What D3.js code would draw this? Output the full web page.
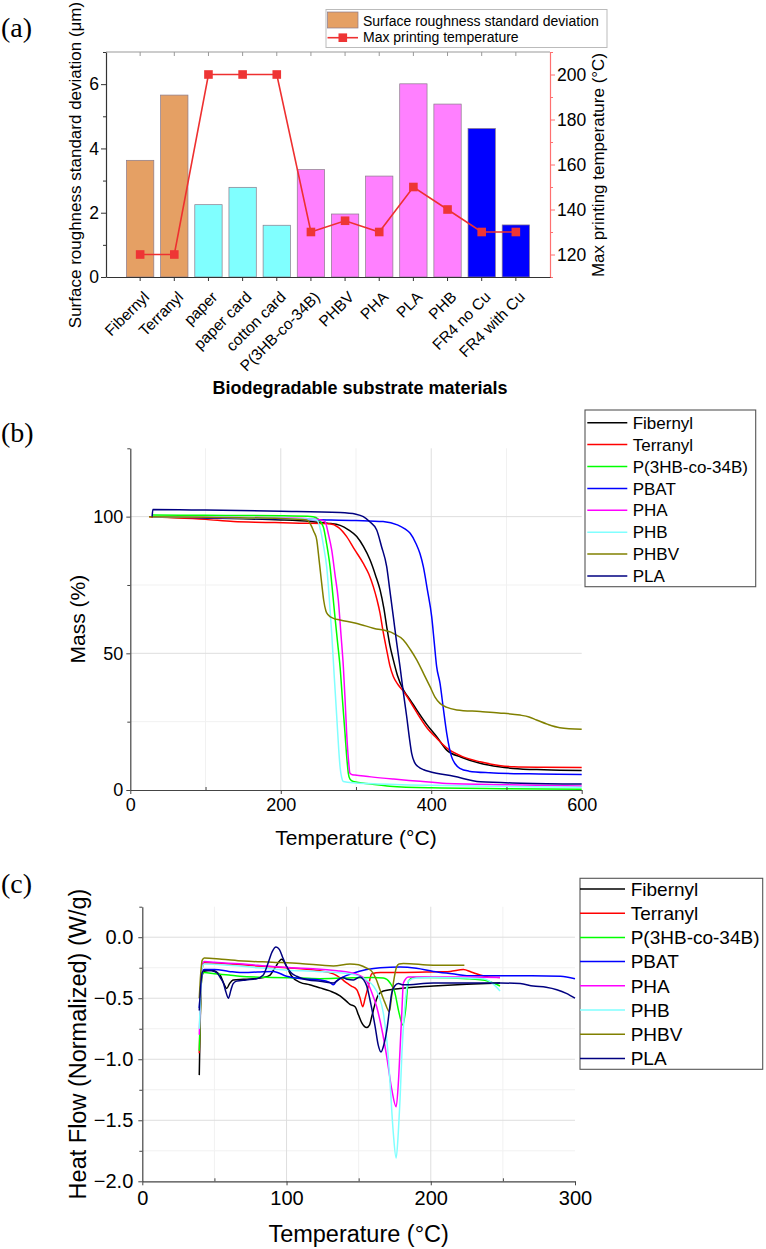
<!DOCTYPE html>
<html><head><meta charset="utf-8">
<script src="https://cdn.jsdelivr.net/npm/d3@7"></script>
<style>
body{margin:0;background:#fff}
svg{display:block}
text{fill:#000}
</style>
</head><body>
<svg id="chart" width="766" height="1249" font-family='"Liberation Sans",Arial,sans-serif'></svg>
<script>
// ---------- Panel (a) data ----------
const categories = ["Fibernyl","Terranyl","paper","paper card","cotton card","P(3HB-co-34B)","PHBV","PHA","PLA","PHB","FR4 no Cu","FR4 with Cu"];
const roughness = [3.63,5.66,2.25,2.79,1.61,3.34,1.96,3.14,6.01,5.38,4.62,1.62];
const maxTemp = [120,120,200,200,200,130,135,130,150,140,130,130];
const barGroup = ["a","a","b","b","b","c","c","c","c","c","d","d"];
const groupColors = {a:"#E5A064", b:"#80FFFF", c:"#FF80FF", d:"#0000FF"};
const yTicksA = [0,2,4,6];
const yMinorA = [1,3,5,7];
const y2TicksA = [120,140,160,180,200];
const y2MinorA = [110,130,150,170,190,210];

// ---------- Panel (b) data : TGA (Temperature °C, Mass %) ----------
const seriesNames = ["Fibernyl","Terranyl","P(3HB-co-34B)","PBAT","PHA","PHB","PHBV","PLA"];
const seriesColors = ["#000000","#FF0000","#00FF00","#0000FF","#FF00FF","#80FFFF","#808000","#000080"];

const tgaFibernyl = [[28,100],[60,99.7],[100,99.5],[150,99.2],[200,98.8],[240,98.2],[262,97.6],[279,96.8],[290,95.2],[301,92.7],[310,89],[318.6,84.2],[326,78.5],[332,73.2],[337,66.5],[340.8,59.8],[345,53],[349.6,47.6],[355,42],[363,36.6],[372,33],[380.7,29.3],[394,24],[407.3,19.5],[420.6,14.6],[440,12],[465,9.8],[490,8.5],[509,7.9],[550,7.4],[600,7.1]];
const tgaTerranyl = [[25,100],[60,99.6],[100,99],[137,98.2],[180,97.9],[225,97.6],[265,97.4],[277,96],[287.6,92.7],[298,88],[309.7,82.9],[317,79],[323,74.4],[328,69.5],[332,64.6],[336,58],[340.8,51.2],[345,45.5],[349.6,41.5],[356,38.5],[365,35.4],[375,31],[385,26.5],[395,22.5],[407,19],[420,15.5],[440,12.4],[465,10.3],[490,9],[510,8.5],[550,8.3],[600,8.2]];
const tgaP3HB = [[30,100.6],[100,100.5],[200,100.3],[243,100],[250,99],[256.5,96.3],[261,90],[265.5,81.7],[269,72],[272,63.4],[275.5,54],[278.8,45.1],[282,33],[285.4,20.7],[288,11],[289.8,6.1],[292,4],[296.4,3.1],[320,2.2],[345,1.4],[400,0.8],[500,0.5],[600,0.3]];
const tgaPBAT = [[30,100],[100,99.6],[200,99.2],[250,98.9],[300,98.6],[336,98.2],[355,97],[365,95.5],[372,93.9],[380,90],[385,86.5],[389.5,81.7],[395,73],[400.6,63.4],[404,54],[407.2,45.1],[411.7,39],[416,30],[420.6,20.7],[424,15.5],[427,12.2],[432,9.5],[438,7.9],[450,6.9],[478,6.3],[530,5.9],[600,5.7]];
const tgaPHA = [[30,100],[100,99.8],[200,99.5],[250,99],[258.8,98.2],[263,94],[267.7,87.8],[272,79],[276.5,69.5],[280,57],[283.2,45],[285.5,33],[287.6,20.7],[290,11],[292,6.1],[295,5.6],[298.6,5.5],[320,4.8],[350,4],[380,3.3],[420,2.4],[500,1.9],[600,1.5]];
const tgaPHB = [[30,100],[100,99.8],[200,99.4],[240,99.1],[247.8,98.8],[253,95],[257,89],[261,81.7],[264.5,70],[267.7,57.3],[271,42],[274.4,26.8],[277,15],[278.8,8.5],[281,4.5],[283.2,3.1],[300,2.6],[323,2.3],[400,1.7],[500,1.3],[600,1.0]];
const tgaPHBV = [[25,100],[100,99.8],[200,99.3],[234.5,98.8],[240,97],[244,94.5],[247.8,91.5],[251,84],[254.4,75.6],[257,69.5],[260,65.5],[263.2,64],[270,62.8],[278.8,62.2],[300,61],[323,59.2],[349.6,57.3],[363,54.9],[372,51.5],[380.7,47.6],[390,42.5],[398.4,37.8],[405,34],[411.7,31.7],[420,30.3],[434,29.3],[465,28.7],[490,28.2],[518,27.4],[530,26.7],[540,25.6],[555,24],[571,22.8],[600,22.2]];
const tgaPLA = [[29,100],[30,102.6],[100,102.4],[200,102],[278.8,101.5],[300,100.9],[309.7,100],[318,98.2],[327.5,95.1],[334,89],[340.8,81.7],[345,73],[349.6,63.4],[354,54],[358.5,45.1],[363,35.5],[367.4,26.8],[371,19],[374,13.4],[378,10],[382.8,8.5],[390,7.4],[398.4,6.7],[430,5],[465,3],[520,2.5],[600,2.2]];
const tgaSeries = [tgaFibernyl,tgaTerranyl,tgaP3HB,tgaPBAT,tgaPHA,tgaPHB,tgaPHBV,tgaPLA];
const xTicksB = [0,200,400,600], xMinorB = [100,300,500];
const yTicksB = [0,50,100], yMinorB = [25,75,125];

// ---------- Panel (c) data : DSC (Temperature °C, Heat flow W/g) ----------
const dscFibernyl = [[39.5,-1.13],[40.3,-0.6],[41.2,-0.33],[43,-0.28],[48,-0.27],[53.9,-0.31],[56.5,-0.38],[58.5,-0.42],[60.5,-0.38],[63.1,-0.35],[70,-0.345],[77,-0.34],[84,-0.33],[88.6,-0.31],[92,-0.25],[96.7,-0.18],[100,-0.24],[103.6,-0.32],[109.4,-0.37],[116,-0.39],[123.2,-0.415],[130,-0.44],[137.1,-0.48],[142,-0.53],[144,-0.55],[147.5,-0.57],[150,-0.64],[152.1,-0.70],[155.6,-0.74],[157.5,-0.72],[159.1,-0.65],[161.5,-0.54],[163.7,-0.47],[167.1,-0.44],[178.7,-0.42],[201.8,-0.40],[225,-0.385],[248,-0.375]];
const dscTerranyl = [[39.5,-0.95],[40.5,-0.5],[41.5,-0.26],[43,-0.21],[60,-0.22],[80,-0.235],[100,-0.25],[120,-0.27],[132.5,-0.3],[138,-0.34],[141.7,-0.375],[145,-0.40],[148.7,-0.43],[151,-0.5],[152.8,-0.57],[154.5,-0.5],[156.7,-0.40],[159.1,-0.30],[165,-0.29],[178.7,-0.29],[200,-0.285],[213.4,-0.28],[222.6,-0.265],[228,-0.285],[234.2,-0.31],[240,-0.325],[248,-0.33]];
const dscP3HB = [[39.5,-0.93],[40.5,-0.5],[41.5,-0.3],[43,-0.29],[50,-0.3],[60,-0.31],[67.7,-0.32],[90,-0.33],[110,-0.335],[123.2,-0.34],[140,-0.335],[160,-0.33],[167.1,-0.335],[171.8,-0.375],[175,-0.45],[178,-0.62],[180.6,-0.72],[182.5,-0.6],[184.5,-0.36],[188,-0.33],[200,-0.33],[225,-0.34],[240,-0.36],[248,-0.40]];
const dscPBAT = [[39.5,-0.58],[40.5,-0.4],[41.5,-0.28],[43,-0.265],[50,-0.265],[60,-0.28],[67.7,-0.29],[80,-0.285],[90.9,-0.28],[100,-0.32],[110,-0.34],[123.2,-0.35],[130,-0.37],[132.5,-0.39],[134.5,-0.36],[139.4,-0.325],[145,-0.3],[155.6,-0.265],[165,-0.25],[178.7,-0.245],[190,-0.255],[201.8,-0.28],[215,-0.3],[225,-0.315],[248,-0.315],[270,-0.315],[290,-0.32],[300,-0.34]];
const dscPHA = [[39.5,-0.8],[40.5,-0.45],[41.5,-0.23],[43,-0.2],[50,-0.205],[70,-0.22],[90,-0.24],[110,-0.255],[121,-0.26],[135,-0.275],[144,-0.29],[150,-0.31],[155.6,-0.36],[159,-0.45],[162.5,-0.57],[166,-0.75],[169.5,-0.98],[173,-1.25],[176,-1.39],[177.5,-1.2],[178.7,-0.92],[180,-0.6],[181,-0.375],[184.5,-0.325],[201.8,-0.325],[225,-0.325],[248,-0.33]];
const dscPHB = [[39.5,-0.75],[40.5,-0.45],[41.5,-0.25],[43,-0.22],[60,-0.23],[80,-0.25],[100,-0.27],[121,-0.28],[144,-0.30],[152,-0.33],[160.2,-0.40],[164,-0.48],[167.1,-0.62],[170,-0.9],[171.8,-1.20],[174,-1.6],[176,-1.81],[177.5,-1.6],[178.7,-1.33],[180,-0.95],[181.5,-0.65],[183,-0.45],[184.5,-0.36],[190,-0.335],[201.8,-0.33],[225,-0.335],[236.5,-0.34],[243,-0.38],[248,-0.44]];
const dscPHBV = [[39.5,-0.5],[40.5,-0.3],[41.5,-0.19],[43,-0.17],[55,-0.18],[70,-0.195],[90,-0.205],[109.4,-0.215],[132.5,-0.235],[144,-0.22],[150,-0.225],[153.3,-0.24],[156,-0.255],[159.1,-0.28],[162,-0.34],[164.8,-0.43],[168,-0.53],[171.3,-0.61],[172.7,-0.5],[174.1,-0.375],[176.4,-0.24],[178,-0.22],[181,-0.215],[201.8,-0.23],[223.3,-0.23]];
const dscPLA = [[39.5,-0.6],[40.5,-0.4],[41.5,-0.29],[43,-0.27],[48,-0.275],[51.6,-0.29],[54,-0.33],[56.2,-0.375],[58,-0.45],[59.7,-0.50],[61.5,-0.43],[63,-0.38],[65.4,-0.36],[72,-0.35],[79.3,-0.34],[83.9,-0.31],[87,-0.22],[90,-0.12],[92.7,-0.08],[95,-0.1],[97.5,-0.17],[100.1,-0.24],[103,-0.29],[107,-0.32],[115,-0.35],[123.2,-0.36],[132.5,-0.375],[136,-0.35],[139,-0.33],[142,-0.345],[146.4,-0.35],[151,-0.325],[153.5,-0.35],[155.6,-0.40],[158.5,-0.55],[161.4,-0.73],[163.5,-0.88],[165.5,-0.94],[167.5,-0.88],[169.9,-0.73],[171.5,-0.58],[172.9,-0.46],[175,-0.4],[177.5,-0.38],[181,-0.39],[201.8,-0.375],[248,-0.375],[262,-0.38],[271,-0.40],[280,-0.41],[287.4,-0.43],[294,-0.46],[300,-0.50]];
const dscSeries = [dscFibernyl,dscTerranyl,dscP3HB,dscPBAT,dscPHA,dscPHB,dscPHBV,dscPLA];
const xTicksC = [0,100,200,300], xMinorC = [50,150,250];
const yTicksC = [0,-0.5,-1.0,-1.5,-2.0], yMinorC = [0.25,-0.25,-0.75,-1.25,-1.75];

// ================= drawing =================
const svg = d3.select("#chart");
const FONT = '"Liberation Sans",Arial,sans-serif';
const SERIF = '"Liberation Serif","Times New Roman",serif';

function styleAxis(g, color, fontSize){
  g.attr("font-family",null).attr("font-size",null);
  g.select(".domain").attr("stroke", color).attr("stroke-width",1.2);
  g.selectAll(".tick line").attr("stroke", color).attr("stroke-width",1);
  g.selectAll(".tick text").style("font-size", fontSize+"px").style("font-family",FONT).attr("fill","#000");
}

function panelLabel(t, y){
  svg.append("text").attr("x",1).attr("y",y).style("font-family",SERIF).style("font-size","28px").text(t);
}

// ---------- Panel (a) ----------
const A = {l:106, r:550, t:52, b:277};
const xA = d3.scaleBand().domain(categories).range([A.l,A.r]).paddingInner(0.2).paddingOuter(0.6);
const yA = d3.scaleLinear().domain([0,7]).range([A.b,A.t]);
const yA2 = d3.scaleLinear().domain([110,210]).range([A.b,A.t]);
const gA = svg.append("g");

panelLabel("(a)",37);

gA.selectAll("rect.bar").data(categories).join("rect").attr("class","bar")
  .attr("x", d=>xA(d)).attr("width", xA.bandwidth())
  .attr("y", (d,i)=>yA(roughness[i])).attr("height",(d,i)=>yA(0)-yA(roughness[i]))
  .attr("fill",(d,i)=>groupColors[barGroup[i]])
  .attr("stroke","#8a7a8a").attr("stroke-width",0.7);

// top frame line with ticks
gA.append("line").attr("x1",A.l).attr("x2",A.r).attr("y1",A.t).attr("y2",A.t).attr("stroke","#999").attr("stroke-width",1);
gA.selectAll("line.topTick").data(categories).join("line").attr("class","topTick")
  .attr("x1",d=>xA(d)+xA.bandwidth()/2).attr("x2",d=>xA(d)+xA.bandwidth()/2)
  .attr("y1",A.t).attr("y2",A.t+4).attr("stroke","#999");

// left axis
const axL = gA.append("g").attr("transform",`translate(${A.l},0)`)
  .call(d3.axisLeft(yA).tickValues(yTicksA).tickFormat(d3.format("d")).tickSize(5).tickSizeOuter(0).tickPadding(2));
styleAxis(axL,"#333",17.5);
const axLm = gA.append("g").attr("transform",`translate(${A.l},0)`)
  .call(d3.axisLeft(yA).tickValues(yMinorA).tickFormat("").tickSize(3).tickSizeOuter(0));
axLm.select(".domain").remove(); axLm.selectAll(".tick line").attr("stroke","#333");

// right axis (red)
const axR = gA.append("g").attr("transform",`translate(${A.r},0)`)
  .call(d3.axisRight(yA2).tickValues(y2TicksA).tickSize(5).tickSizeOuter(0).tickPadding(2));
styleAxis(axR,"#FF7070",17.5);
axR.selectAll(".tick text").attr("fill","#F03535");
const axRm = gA.append("g").attr("transform",`translate(${A.r},0)`)
  .call(d3.axisRight(yA2).tickValues(y2MinorA).tickFormat("").tickSize(3).tickSizeOuter(0));
axRm.select(".domain").remove(); axRm.selectAll(".tick line").attr("stroke","#FF7070");

// bottom axis
const axB = gA.append("g").attr("transform",`translate(0,${A.b})`)
  .call(d3.axisBottom(xA).tickSize(4).tickSizeOuter(0));
styleAxis(axB,"#333",15.5);
axB.selectAll(".tick text").attr("text-anchor","end").attr("x",10).attr("y",21).attr("dy",0)
  .attr("transform","rotate(-45 10 21)");

// line with markers
const cx = d => xA(d)+xA.bandwidth()/2;
const lineA = d3.line().x((d,i)=>cx(categories[i])).y(d=>yA2(d));
gA.append("path").datum(maxTemp).attr("d",lineA).attr("fill","none").attr("stroke","#EE3030").attr("stroke-width",1.6);
gA.selectAll("rect.mk").data(maxTemp).join("rect").attr("class","mk")
  .attr("x",(d,i)=>cx(categories[i])-4.3).attr("y",d=>yA2(d)-4.3).attr("width",8.6).attr("height",8.6)
  .attr("fill","#EE3535");

// titles
gA.append("text").attr("transform","translate(75,165) rotate(-90)").attr("text-anchor","middle").attr("dy","0.35em")
  .style("font-size","17px").text("Surface roughness standard deviation (μm)");
gA.append("text").attr("transform","translate(598,165) rotate(-90)").attr("text-anchor","middle").attr("dy","0.35em")
  .style("font-size","17px").text("Max printing temperature (°C)");
gA.append("text").attr("x",360).attr("y",394).attr("text-anchor","middle").attr("font-weight","bold")
  .style("font-size","18px").text("Biodegradable substrate materials");

// legend (a)
gA.append("rect").attr("x",326).attr("y",9.5).attr("width",281).attr("height",38).attr("fill","#fff").attr("stroke","#bbb");
gA.append("rect").attr("x",327.5).attr("y",12).attr("width",30.5).attr("height",16).attr("fill",groupColors.a).attr("stroke","#8a7a8a").attr("stroke-width",0.7);
gA.append("text").attr("x",363).attr("y",25.5).style("font-size","14px").text("Surface roughness standard deviation");
gA.append("line").attr("x1",327.5).attr("x2",358).attr("y1",37.7).attr("y2",37.7).attr("stroke","#EE3030").attr("stroke-width",1.6);
gA.append("rect").attr("x",342.8-4.3).attr("y",37.7-4.3).attr("width",8.6).attr("height",8.6).attr("fill","#EE3535");
gA.append("text").attr("x",363).attr("y",42).style("font-size","14px").text("Max printing temperature");

// ---------- generic line panel ----------
function linePanel(o){
  const g = svg.append("g");
  const x = d3.scaleLinear().domain(o.xDom).range([o.l,o.r]);
  const y = d3.scaleLinear().domain(o.yDom).range([o.b,o.t]);
  panelLabel(o.label,o.labelY);
  // minor grid
  g.selectAll("line.mgx").data(o.xMinor).join("line").attr("x1",d=>x(d)).attr("x2",d=>x(d)).attr("y1",o.t).attr("y2",o.b).attr("stroke","#f1f1f1");
  g.selectAll("line.mgy").data(o.yMinor.filter(v=>v<o.yDom[1])).join("line").attr("y1",d=>y(d)).attr("y2",d=>y(d)).attr("x1",o.l).attr("x2",o.r).attr("stroke","#f1f1f1");
  // major grid
  g.selectAll("line.gx").data(o.xTicks.filter(v=>v>o.xDom[0]&&v<o.xDom[1])).join("line").attr("x1",d=>x(d)).attr("x2",d=>x(d)).attr("y1",o.t).attr("y2",o.b).attr("stroke","#dedede");
  g.selectAll("line.gy").data(o.yTicks.filter(v=>v>o.yDom[0])).join("line").attr("y1",d=>y(d)).attr("y2",d=>y(d)).attr("x1",o.l).attr("x2",o.r).attr("stroke","#dedede");
  // lines
  const ln = d3.line().x(d=>x(d[0])).y(d=>y(d[1])).curve(d3.curveMonotoneX);
  g.selectAll("path.s").data(o.series).join("path").attr("class","s").attr("d",ln)
    .attr("fill","none").attr("stroke",(d,i)=>seriesColors[i]).attr("stroke-width",1.5);
  // axes
  const ax = g.append("g").attr("transform",`translate(0,${o.b})`)
    .call(d3.axisBottom(x).tickValues(o.xTicks).tickFormat(o.xFmt).tickSize(4).tickSizeOuter(0).tickPadding(o.xPad));
  styleAxis(ax,"#444",o.tickFont);
  const axm = g.append("g").attr("transform",`translate(0,${o.b})`)
    .call(d3.axisBottom(x).tickValues(o.xMinor).tickFormat("").tickSize(-3).tickSizeOuter(0));
  axm.select(".domain").remove(); axm.selectAll(".tick line").attr("stroke","#444");
  const ay = g.append("g").attr("transform",`translate(${o.l},0)`)
    .call(d3.axisLeft(y).tickValues(o.yTicks).tickFormat(o.yFmt).tickSize(4).tickSizeOuter(0).tickPadding(o.yPad));
  styleAxis(ay,"#444",o.tickFont);
  const aym = g.append("g").attr("transform",`translate(${o.l},0)`)
    .call(d3.axisLeft(y).tickValues(o.yMinor).tickFormat("").tickSize(3).tickSizeOuter(0));
  aym.select(".domain").remove(); aym.selectAll(".tick line").attr("stroke","#444");
  // titles
  g.append("text").attr("x",(o.l+o.r)/2).attr("y",o.xTitleY).attr("text-anchor","middle").style("font-size",o.titleFont+"px").text("Temperature (°C)");
  g.append("text").attr("transform",`translate(${o.yTitleX},${(o.t+o.b)/2}) rotate(-90)`).attr("text-anchor","middle").attr("dy","0.35em")
    .style("font-size",o.titleFont+"px").text(o.yTitle);
  // legend
  const L = o.legend;
  g.append("rect").attr("x",L.x).attr("y",L.y).attr("width",L.w).attr("height",L.h).attr("fill","#fff").attr("stroke","#555").attr("stroke-width",1.1);
  seriesNames.forEach((nm,i)=>{
    const yy = L.row0 + i*L.dy;
    g.append("line").attr("x1",L.lx1).attr("x2",L.lx2).attr("y1",yy).attr("y2",yy).attr("stroke",seriesColors[i]).attr("stroke-width",1.5);
    g.append("text").attr("x",L.tx).attr("y",yy).attr("dy","0.36em").style("font-size",L.font+"px").text(nm);
  });
}

linePanel({
  label:"(b)", labelY:442,
  l:130.3, r:581.7, t:448.3, b:790,
  xDom:[0,600], yDom:[0,125],
  xTicks:xTicksB, xMinor:xMinorB, yTicks:yTicksB, yMinor:yMinorB,
  xFmt:d3.format("d"), yFmt:d3.format("d"),
  xPad:4, yPad:3, tickFont:18, titleFont:21,
  xTitleY:845, yTitleX:78, yTitle:"Mass (%)",
  series:tgaSeries,
  legend:{x:585,y:410,w:170.7,h:176.7,row0:422.7,dy:21.9,lx1:587.3,lx2:627.3,tx:632.7,font:17}
});

linePanel({
  label:"(c)", labelY:893,
  l:142.3, r:575, t:906.7, b:1181.3,
  xDom:[0,300], yDom:[-2,0.25],
  xTicks:xTicksC, xMinor:xMinorC, yTicks:yTicksC, yMinor:yMinorC,
  xFmt:d3.format("d"), yFmt:d=>d3.format(".1f")(d).replace("-","\u2212"),
  xPad:6, yPad:5, tickFont:20, titleFont:23.5,
  xTitleY:1241.7, yTitleX:77.5, yTitle:"Heat Flow (Normalized) (W/g)",
  series:dscSeries,
  legend:{x:580,y:878.3,w:182.7,h:191,row0:889,dy:24.2,lx1:580,lx2:625,tx:630.7,font:19}
});
</script>
</body></html>
